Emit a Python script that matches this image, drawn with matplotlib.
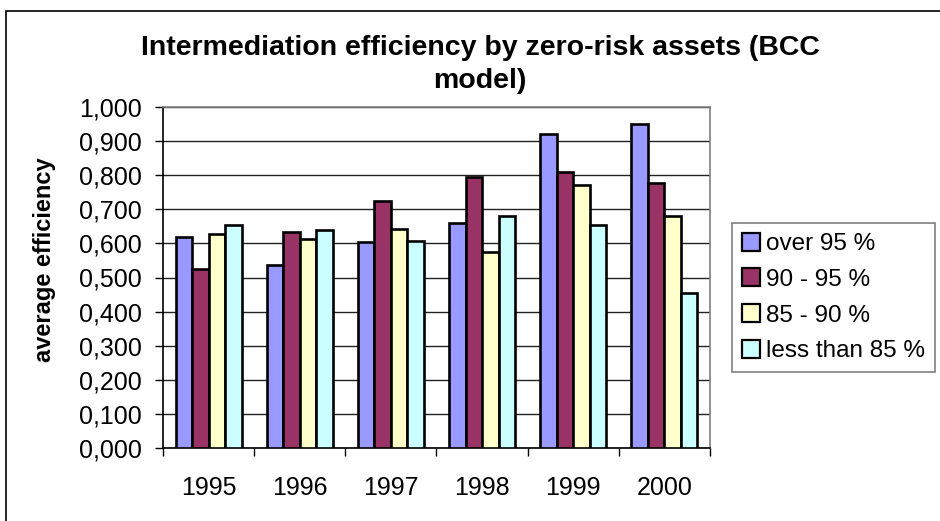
import matplotlib
matplotlib.use("Agg")
import matplotlib.pyplot as plt
from matplotlib.patches import Rectangle
import numpy as np

plt.rcParams['font.family'] = ['Liberation Sans', 'DejaVu Sans']

# data
years = ['1995', '1996', '1997', '1998', '1999', '2000']
over_95 = [0.620, 0.536, 0.604, 0.660, 0.921, 0.950]
from_90_95 = [0.526, 0.634, 0.723, 0.794, 0.809, 0.776]
from_85_90 = [0.629, 0.612, 0.642, 0.574, 0.771, 0.680]
less_85 = [0.655, 0.638, 0.606, 0.680, 0.653, 0.456]
series_names = ['over 95 %', '90 - 95 %', '85 - 90 %', 'less than 85 %']
y_ticks = [0.0, 0.1, 0.2, 0.3, 0.4, 0.5, 0.6, 0.7, 0.8, 0.9, 1.0]

colors = ['#9999FF', '#993366', '#FFFFCC', '#CCFFFF']

W, H = 940, 521
fig = plt.figure(figsize=(W / 100, H / 100), dpi=100)
ax = fig.add_axes([163 / W, 1 - 448 / H, (710 - 163) / W, (448 - 107) / H])

x = np.arange(len(years))
bw = 0.181
series = [over_95, from_90_95, from_85_90, less_85]
for i, vals in enumerate(series):
    ax.bar(x + (i - 1.5) * bw, vals, width=bw, color=colors[i],
           edgecolor='black', linewidth=1.9, label=series_names[i], zorder=3)

# axes
ax.set_xlim(-0.5, len(years) - 0.5)
ax.set_ylim(0, 1.0)
ax.set_yticks(y_ticks)
ax.set_yticklabels([('%.3f' % v).replace('.', ',') for v in y_ticks])
ax.set_xticks(x)
ax.set_xticklabels(years)
ax.set_xticks(np.arange(len(years) + 1) - 0.5, minor=True)
ax.tick_params(axis='x', which='major', length=0, pad=20, labelsize=18)
ax.tick_params(axis='x', which='minor', length=6, width=1, direction='out')
ax.tick_params(axis='y', length=6, width=1, direction='out', pad=9, labelsize=18)

ax.grid(axis='y', color='#222222', linewidth=1, zorder=0)
ax.spines['left'].set_color('black')
ax.spines['bottom'].set_color('black')
ax.spines['top'].set_color('#808080')
ax.spines['right'].set_color('#808080')
for s in ax.spines.values():
    s.set_linewidth(1.2)

# title on two lines, as in the original
fig.text(480 / W, 1 - 55 / H, 'Intermediation efficiency by zero-risk assets (BCC',
         ha='center', va='baseline', fontsize=20.5, fontweight='bold')
fig.text(480 / W, 1 - 88 / H, 'model)', ha='center', va='baseline',
         fontsize=20.5, fontweight='bold')
fig.text(45 / W, 1 - 260 / H, 'average efficiency', rotation=90,
         ha='center', va='center', fontsize=17, fontweight='bold')

leg = ax.legend(loc='upper left', bbox_to_anchor=(732 / W, 1 - 223 / H),
                bbox_transform=fig.transFigure, fontsize=17.5, frameon=True,
                fancybox=False, framealpha=1, edgecolor='#808080',
                handlelength=0.75, handleheight=0.75, handletextpad=0.25,
                labelspacing=0.55, borderpad=0.4, borderaxespad=0)
leg.get_frame().set_linewidth(1.2)
for h in leg.legend_handles:
    h.set_linewidth(1.6)

# chart area border (runs off the right and bottom edges)
fig.patches.append(Rectangle((6 / W, -0.1), 1.2, 1.1 - 11 / H, transform=fig.transFigure,
                             fill=False, edgecolor='black', linewidth=1.2))

fig.savefig('out.png', dpi=100)
